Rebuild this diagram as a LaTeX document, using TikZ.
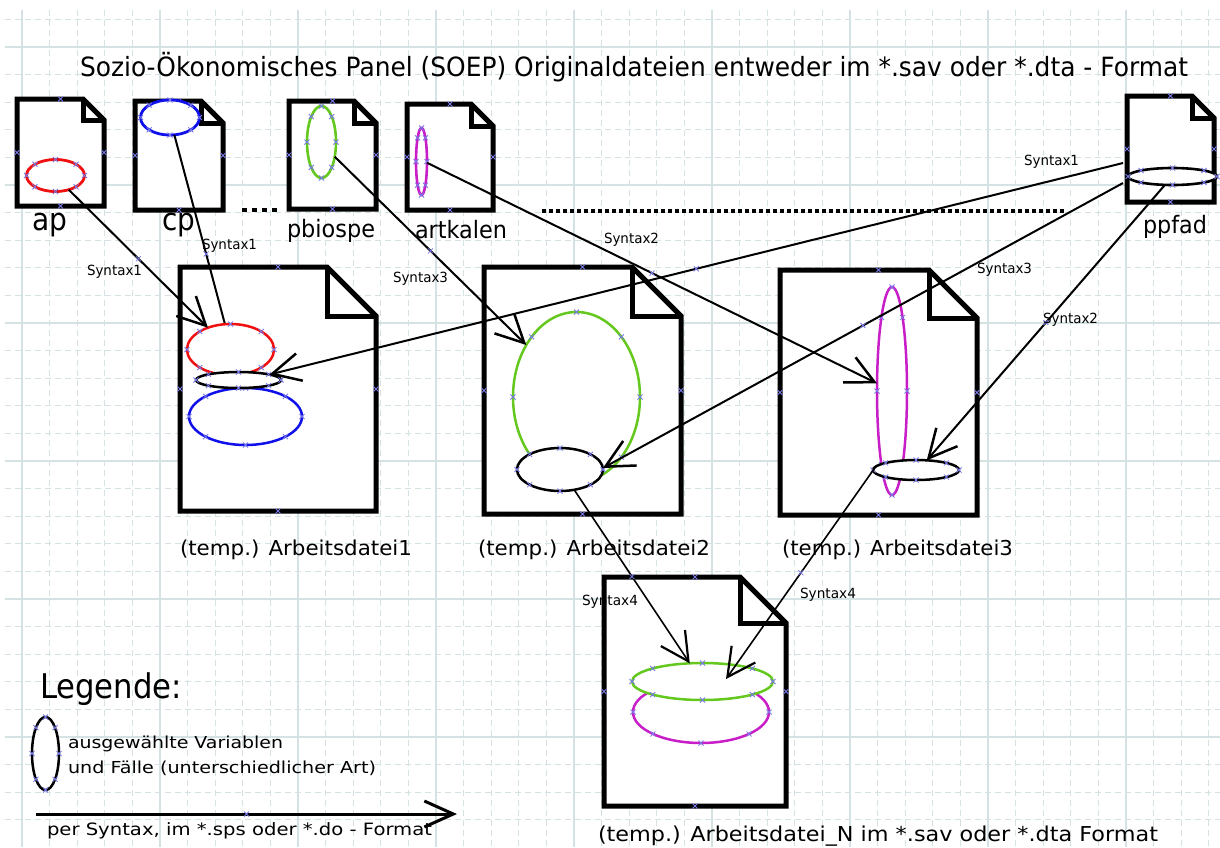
\documentclass[tikz,border=0pt]{standalone}
\usepackage{fontspec}
\setmainfont{DejaVu Sans}
\usepackage{graphicx}
\usetikzlibrary{shapes.geometric,arrows.meta,calc}

\definecolor{gridc}{RGB}{212,226,228}
\definecolor{mred}{RGB}{240,16,16}
\definecolor{mblue}{RGB}{16,16,235}
\definecolor{mgreen}{RGB}{100,200,30}
\definecolor{mmag}{RGB}{200,30,200}
\definecolor{markc}{RGB}{120,120,230}

\newsavebox\fitbox
\newcommand\fitw[3]{{\fontsize{#2pt}{#2pt}\selectfont\sbox\fitbox{#3}\pgfmathsetmacro\fitr{#1/\the\wd\fitbox}\scalebox{\fitr}[1]{\usebox\fitbox}}}
\newcommand\xm[1]{\draw[markst] #1 ++(-2.5,-2.5) -- ++(5,5) ++(0,-5) -- ++(-5,5);}
\newcommand\emk[4]{\foreach \ang in {0,45,...,315}{\xm{({#1+#3*cos(\ang)},{#2+#4*sin(\ang)})}}}
\newcommand\docshape[5]{%
  \filldraw[docline, fill=white] (#1,#2) -- ({#3-#5},#2) -- (#3,{#2+#5}) -- (#3,#4) -- (#1,#4) -- cycle;
  \draw[docline] ({#3-#5},#2) -- ({#3-#5},{#2+#5}) -- (#3,{#2+#5});
  \xm{({(#1+#3)/2},#2)}\xm{({(#1+#3)/2},#4)}\xm{(#1,{(#2+#4)/2})}\xm{(#3,{(#2+#4)/2})}}
\newcommand\ellnode[7]{%
  \node[ellipse, draw=#6, fill=white, line width=#7, minimum width={2*#4}, minimum height={2*#5}, inner sep=0pt, outer sep=0pt] (#1) at (#2,#3) {};
  \emk{#2}{#3}{#4}{#5}}

\begin{document}
\begin{tikzpicture}[x=1pt,y=-1pt,
  gridd/.style={draw=gridc, line width=0.9pt, dash pattern=on 6pt off 4pt},
  grids/.style={draw=gridc, line width=1.2pt},
  docline/.style={line width=5pt, line join=miter, draw=black},
  conn/.style={line width=2pt, -{Straight Barb[length=28pt,width=28pt,line width=2.5pt]}},
  thinconn/.style={line width=1.6pt, -{Straight Barb[length=28pt,width=29pt,line width=2.2pt]}},
  plainconn/.style={line width=2pt},
  lbl/.style={inner sep=0pt, outer sep=0pt, anchor=base west},
  markst/.style={draw=markc, line width=0.8pt},
  dots/.style={line width=4.5pt, dash pattern=on 5pt off 5pt},
  ldots/.style={line width=4pt, dash pattern=on 3.5pt off 3.5pt}]
\useasboundingbox (0,0) rectangle (1220,847);
\fill[white] (0,0) rectangle (1220,847);

% grid
\foreach \k in {0,...,43} \draw[gridd] ({22+27.6*\k},10) -- ({22+27.6*\k},847);
\foreach \k in {-1,...,28} \draw[gridd] (5,{47+27.6*\k}) -- (1220,{47+27.6*\k});
\foreach \k in {0,...,8} \draw[grids] ({22+138*\k},10) -- ({22+138*\k},847);
\foreach \k in {0,...,5} \draw[grids] (5,{47+138*\k}) -- (1220,{47+138*\k});

% title
\node[lbl] (tTitle) at (80,76) {\fitw{1108}{26.5}{Sozio-Ökonomisches Panel (SOEP) Originaldateien entweder im *.sav oder *.dta - Format}};

% small documents
\docshape{17}{99}{104}{206}{21}
\docshape{135}{101}{223}{210}{22}
\docshape{289}{101}{376}{209}{22}
\docshape{407}{104}{493}{210}{22}
\docshape{1127}{96}{1214}{202}{22}

\ellnode{apE}{55.5}{175.5}{29}{16}{mred}{2.8pt}
\ellnode{cpE}{170}{117.5}{29.5}{17.5}{mblue}{2.8pt}
\ellnode{pbE}{321.5}{142}{14.5}{36}{mgreen}{2.6pt}
\ellnode{akE}{421.5}{161.5}{5.5}{33.5}{mmag}{2.6pt}
\ellnode{ppE}{1172.5}{176.5}{44.5}{8.5}{black}{2.6pt}

\node[lbl] (lAp) at (32,230) {\fitw{35}{31}{ap}};
\node[lbl] (lCp) at (162,230) {\fitw{33}{31}{cp}};
\node[lbl] (lPb) at (287,237) {\fitw{88}{24}{pbiospe}};
\node[lbl] (lAk) at (415,238) {\fitw{92}{24}{artkalen}};
\node[lbl] (lPp) at (1143,233) {\fitw{64}{24}{ppfad}};

\coordinate (do1) at (242,210); \coordinate (do2) at (281,210);
\draw[dots] (do1) -- (do2);
\coordinate (dl1) at (542,211); \coordinate (dl2) at (1064,211);
\draw[ldots] (dl1) -- (dl2);

% big documents
\docshape{180}{267}{376}{511}{49}
\docshape{484}{267}{681}{514}{49}
\docshape{780}{270}{977}{515}{48}
\docshape{604}{577}{786}{806}{46}

% black target ellipse of doc 1 needed for hidden connector
\path (238.5,380) coordinate (d1Kc);
\draw[plainconn] (cpE.-76) -- coordinate (m2) (238,373);
\xm{(m2)}

\ellnode{d1R}{230.5}{349.5}{43.5}{25.5}{mred}{2.5pt}
\ellnode{d1B}{245.5}{416.5}{56.5}{28.5}{mblue}{2.5pt}
\ellnode{d1K}{238.5}{380}{42.5}{8}{black}{2.5pt}
\ellnode{d2G}{576.5}{397}{63.5}{85}{mgreen}{2.5pt}
\ellnode{d2K}{560}{469.5}{43}{21.5}{black}{2.5pt}
\ellnode{d3M}{892}{391}{15}{104}{mmag}{2.5pt}
\ellnode{d3K}{916}{470}{43}{10}{black}{2.5pt}
\ellnode{dNM}{701}{712}{68}{31}{mmag}{2.5pt}
\ellnode{dNG}{702.5}{681.5}{70.5}{18.5}{mgreen}{2.5pt}

% connectors
\coordinate (pp1) at (1123,163);
\coordinate (pp2) at (1123,183);
\coordinate (tN) at ($(dNG.center)+(23.5,-2.5)$);

\draw[conn] (apE.-47) -- coordinate (m1) (d1R.136); \xm{(m1)}
\draw[conn] (pbE.-48) -- coordinate (m3) (d2G.134); \xm{(m3)}
\draw[conn] (akE.-13) -- coordinate (m4) (d3M.153); \xm{(m4)}
\draw[conn] (pp1) -- coordinate (m5) (d1K.10); \xm{(m5)}
\draw[conn] (pp2) -- coordinate (m6) (d2K.2); \xm{(m6)}
\draw[conn] (ppE.-132) -- coordinate (m7) (d3K.42); \xm{(m7)}
\draw[thinconn] (d2K.-55) -- coordinate (m8) (dNG.125); \xm{(m8)}
\draw[thinconn] (d3K.175) -- coordinate (m9) (tN); \xm{(m9)}

% connector labels
\node[lbl] (s1) at (87,275) {\fitw{55}{14}{Syntax1}};
\node[lbl] (s2) at (202,249) {\fitw{55}{14}{Syntax1}};
\node[lbl] (s3) at (393,282) {\fitw{55}{14}{Syntax3}};
\node[lbl] (s4) at (604,243) {\fitw{55}{14}{Syntax2}};
\node[lbl] (s5) at (1024,165) {\fitw{55}{14}{Syntax1}};
\node[lbl] (s6) at (977,273) {\fitw{55}{14}{Syntax3}};
\node[lbl] (s7) at (1043,323) {\fitw{55}{14}{Syntax2}};
\node[lbl] (s8) at (582,605) {\fitw{56}{14}{Syntax4}};
\node[lbl] (s9) at (800,598) {\fitw{56}{14}{Syntax4}};

% document labels
\node[lbl] (lD1) at (180,555) {\fitw{232}{20.5}{(temp.) Arbeitsdatei1}};
\node[lbl] (lD2) at (478,555) {\fitw{232}{20.5}{(temp.) Arbeitsdatei2}};
\node[lbl] (lD3) at (782,555) {\fitw{231}{20.5}{(temp.) Arbeitsdatei3}};
\node[lbl] (lDN) at (598,841) {\fitw{560}{20.5}{(temp.) Arbeitsdatei\_N im *.sav oder *.dta Format}};

% legend
\node[lbl] (lLeg) at (40,698) {\fitw{142}{34}{Legende:}};
\ellnode{legE}{45.5}{753.5}{13.5}{36.5}{black}{2.5pt}
\node[lbl] (lLeg1) at (68,748) {\fitw{215}{16.5}{ausgewählte Variablen}};
\node[lbl] (lLeg2) at (68,773) {\fitw{308}{16.5}{und Fälle (unterschiedlicher Art)}};
\coordinate (legA) at (36,814);
\coordinate (legB) at (457,814);
\draw[line width=3pt, -{Straight Barb[length=29pt,width=26pt,line width=3pt]}] (legA) -- coordinate (lm) (legB);
\xm{(lm)}
\node[lbl] (lLeg3) at (47,835) {\fitw{385}{17}{per Syntax, im *.sps oder *.do - Format}};
\end{tikzpicture}
\end{document}
